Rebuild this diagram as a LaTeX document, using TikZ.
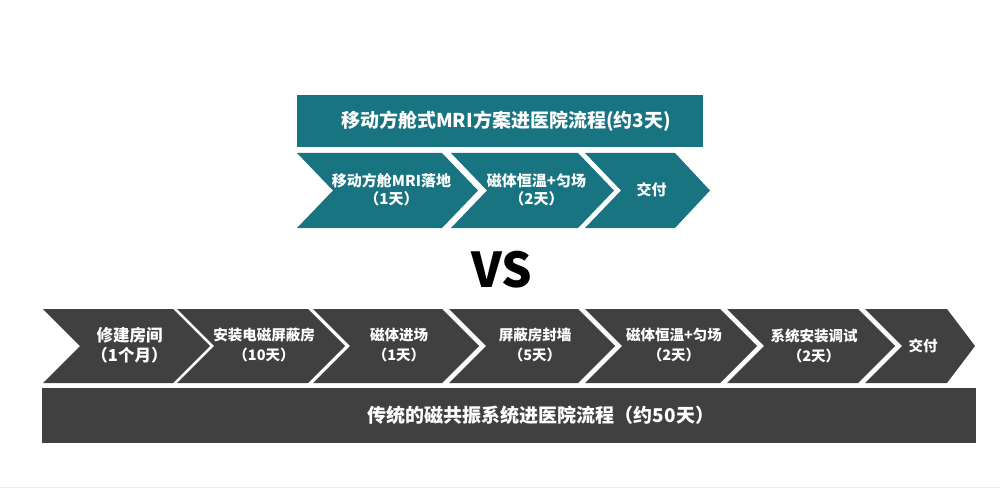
\documentclass[tikz,border=0pt]{standalone}
\usepackage{fontspec}
\setmainfont{Noto Sans CJK SC}
\usepackage{xcolor}
\usepackage{tikz}
\usetikzlibrary{positioning}

\definecolor{mriteal}{RGB}{24,116,128}
\definecolor{oldgray}{RGB}{64,64,64}

\tikzset{
    titletext/.style={text=white, inner sep=0pt, font=\bfseries\fontsize{19}{22}\selectfont},
    steptext/.style={text=white, inner sep=0pt, align=center}
}

\begin{document}
\begin{tikzpicture}[x=1pt, y=-1pt]
    \useasboundingbox (0,0) rectangle (1000,489);

    % Mobile MRI: title bar
    \fill[mriteal] (297,95) rectangle (703,147);
    \node[titletext] (mrititle) at (506,121) {移动方舱式MRI方案进医院流程(约3天)};

    % Mobile MRI: steps
    \foreach \xa/\xb/\xc/\txt [count=\i] in {297/442/478/{移动方舱MRI落地\\（1天）},
        451/578/614/{磁体恒温+匀场\\（2天）}, 585/675/710/{交付}}
    {
        \fill[mriteal] (\xa,153) -- (\xb,153) -- (\xc,190.5) -- (\xb,228) -- (\xa,228) -- (\xa+36,190.5) -- cycle;
        \node[steptext, font=\bfseries\fontsize{15}{18}\selectfont] (mri\i) at ({(\xa+\xc)/2+4},190) {\txt};
    }

    % VS
    \node[inner sep=0pt, font=\bfseries\fontsize{48}{48}\selectfont] (vs) at (502,269.5) {VS};

    % Traditional MRI: steps
    \foreach \xa/\xb/\xc/\fs/\txt [count=\i] in {43/173/210/16.5/{修建房间\\（1个月）},
        177/308/345/14.5/{安装电磁屏蔽房\\（10天）}, 313/442/479/14.5/{磁体进场\\（1天）},
        449/578/615/14.5/{屏蔽房封墙\\（5天）}, 585/720/757/14.5/{磁体恒温+匀场\\（2天）},
        727/858/895/14.5/{系统安装调试\\（2天）}, 865/947/975/14.5/{交付}}
    {
        \fill[oldgray] (\xa,309) -- (\xb,309) -- (\xc,346) -- (\xb,383) -- (\xa,383) -- (\xa+37,346) -- cycle;
        \node[steptext, font=\bfseries\fontsize{\fs}{20}\selectfont] (old\i) at ({(\xa+\xc)/2+3},345.5) {\txt};
    }

    % Traditional MRI: title bar
    \fill[oldgray] (42,388) rectangle (976,443);
    \node[titletext] (oldtitle) at (541,415) {传统的磁共振系统进医院流程（约50天）};

    % Page edge
    \draw[black!7, line width=1.5pt] (0,487.5) -- (1000,487.5);
\end{tikzpicture}
\end{document}
